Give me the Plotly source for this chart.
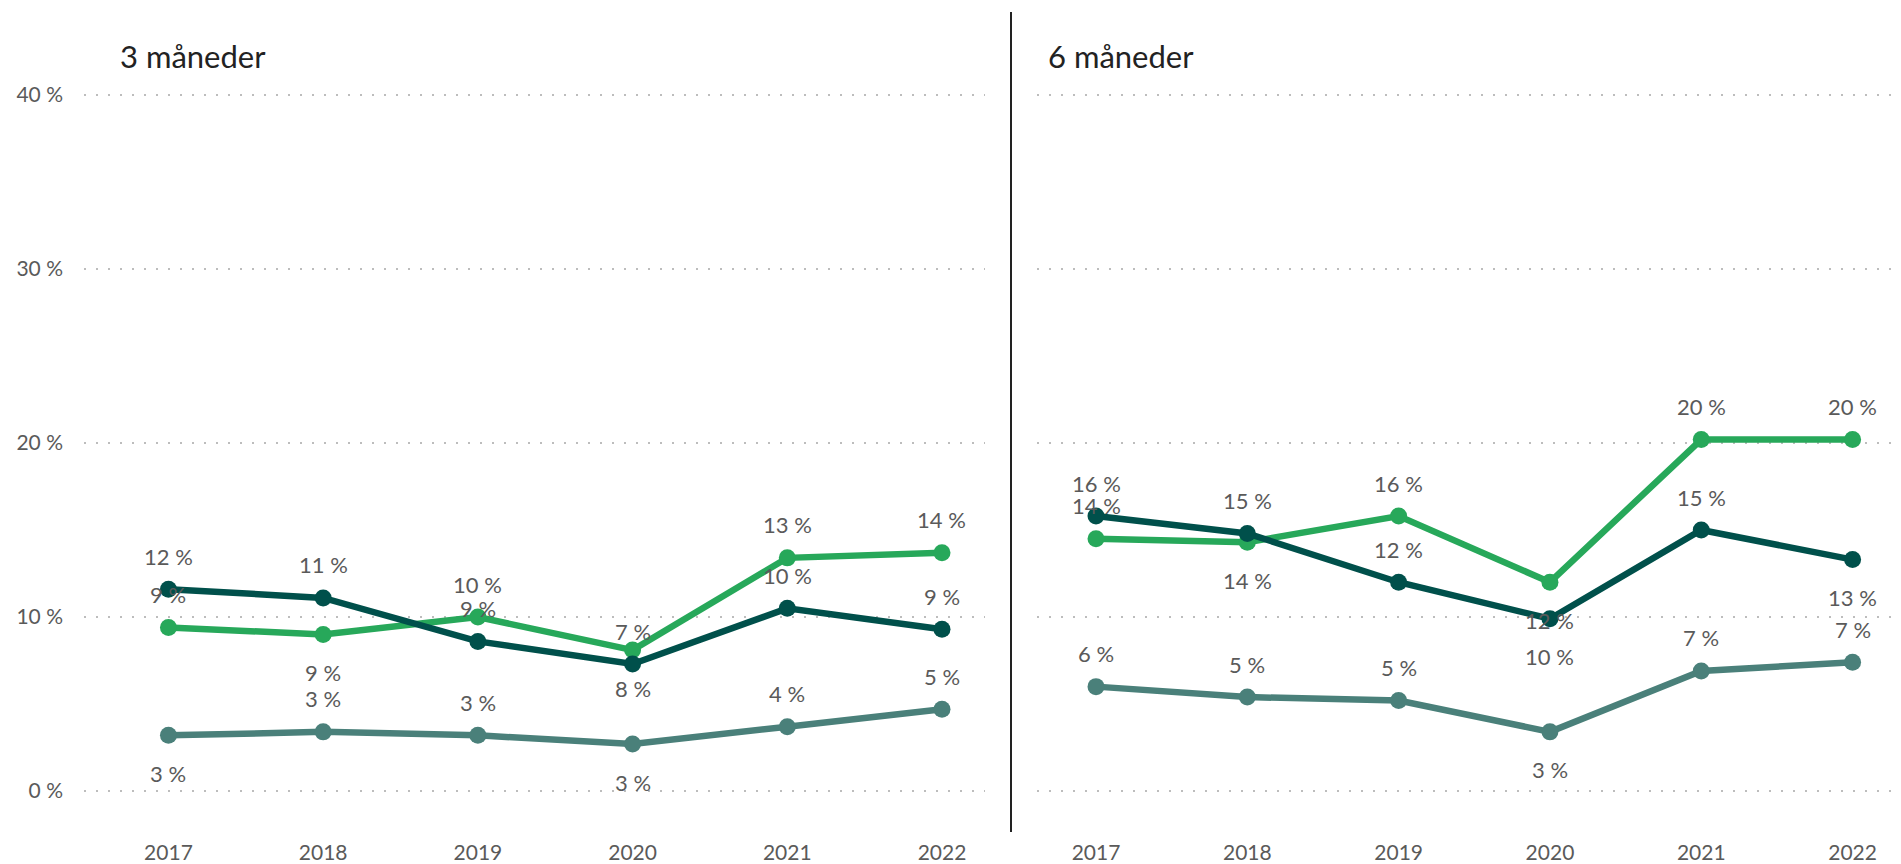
import plotly.graph_objects as go

years = ["2017", "2018", "2019", "2020", "2021", "2022"]
panels = ["3 måneder", "6 måneder"]
y_ticks = [0, 10, 20, 30, 40]
y_tick_text = ["0 %", "10 %", "20 %", "30 %", "40 %"]

# three series per panel (dark, green, teal)
dark_3m = [11.6, 11.1, 8.6, 7.3, 10.5, 9.3]
green_3m = [9.4, 9.0, 10.0, 8.1, 13.4, 13.7]
teal_3m = [3.2, 3.4, 3.2, 2.7, 3.7, 4.7]

dark_6m = [15.8, 14.8, 12.0, 9.9, 15.0, 13.3]
green_6m = [14.5, 14.3, 15.8, 12.0, 20.2, 20.2]
teal_6m = [6.0, 5.4, 5.2, 3.4, 6.9, 7.4]

# label above (1) or below (-1) each point
dark_3m_pos = [1, 1, 1, 1, 1, 1]
green_3m_pos = [1, -1, 1, -1, 1, 1]
teal_3m_pos = [-1, 1, 1, -1, 1, 1]
dark_6m_pos = [1, 1, 1, -1, 1, -1]
green_6m_pos = [1, -1, 1, -1, 1, 1]
teal_6m_pos = [1, 1, 1, -1, 1, 1]

DARK = "#00504b"
GREEN = "#27a85a"
TEAL = "#4a807a"
FONT = "Lato"
# page body has an 8px margin; keep the figure inside the window
W, H = 1893, 856

fig = go.Figure()

series = [
    (1, dark_3m, dark_3m_pos, DARK),
    (1, green_3m, green_3m_pos, GREEN),
    (1, teal_3m, teal_3m_pos, TEAL),
    (2, dark_6m, dark_6m_pos, DARK),
    (2, green_6m, green_6m_pos, GREEN),
    (2, teal_6m, teal_6m_pos, TEAL),
]

# draw teal first, then green, then dark on top
for panel, vals, pos, color in series[::-1]:
    xa = "x" if panel == 1 else "x2"
    ya = "y" if panel == 1 else "y2"
    fig.add_trace(
        go.Scatter(
            x=years,
            y=vals,
            mode="lines+markers",
            line=dict(color=color, width=6.5),
            marker=dict(color=color, size=17),
            xaxis=xa,
            yaxis=ya,
            showlegend=False,
            hoverinfo="skip",
        )
    )
    for i, (v, p) in enumerate(zip(vals, pos)):
        fig.add_annotation(
            x=i,
            y=v,
            xref=xa,
            yref=ya,
            text=f"{round(v)}\u00a0%",
            showarrow=False,
            yshift=33 if p > 0 else -38,
            font=dict(family=FONT, size=22, color="#5a5a5a"),
        )

y_dom = [(H - 824.8) / H, (H - 43.5) / H]
y_range = [-2.4, 42.5]
grid = dict(
    showgrid=True,
    gridcolor="#bdbdbd",
    gridwidth=2,
    griddash="2px,10px",
    zeroline=False,
    showline=False,
    tickmode="array",
    tickvals=y_ticks,
    ticktext=y_tick_text,
    range=y_range,
    domain=y_dom,
    automargin=False,
)
xbase = dict(
    type="category",
    showgrid=False,
    zeroline=False,
    showline=False,
    ticks="",
    ticklabelstandoff=5,
    automargin=False,
)

fig.update_layout(
    width=W,
    height=H,
    margin=dict(l=0, r=0, t=0, b=0),
    plot_bgcolor="white",
    paper_bgcolor="white",
    font=dict(family=FONT, size=21, color="#5a5a5a"),
    xaxis=dict(**xbase, domain=[76 / W, 977 / W], range=[-0.546, 5.278], anchor="y"),
    xaxis2=dict(**xbase, domain=[1029 / W, 1.0], range=[-0.39, 5.32], anchor="y2"),
    yaxis=dict(**grid, ticklabelstandoff=20, anchor="x"),
    yaxis2=dict(**grid, showticklabels=False, anchor="x2"),
)

# panel titles
for title, x0 in zip(panels, [110, 1038]):
    fig.add_annotation(
        x=x0 / W,
        y=(H - 48) / H,
        xref="paper",
        yref="paper",
        text=title,
        showarrow=False,
        xanchor="left",
        yanchor="middle",
        font=dict(family=FONT, size=31, color="#222222"),
    )

# vertical divider between the panels
fig.add_shape(
    type="line",
    xref="paper",
    yref="paper",
    x0=1003 / W,
    x1=1003 / W,
    y0=(H - 824) / H,
    y1=(H - 4) / H,
    line=dict(color="#222222", width=2),
)

fig.write_html("out.html")
